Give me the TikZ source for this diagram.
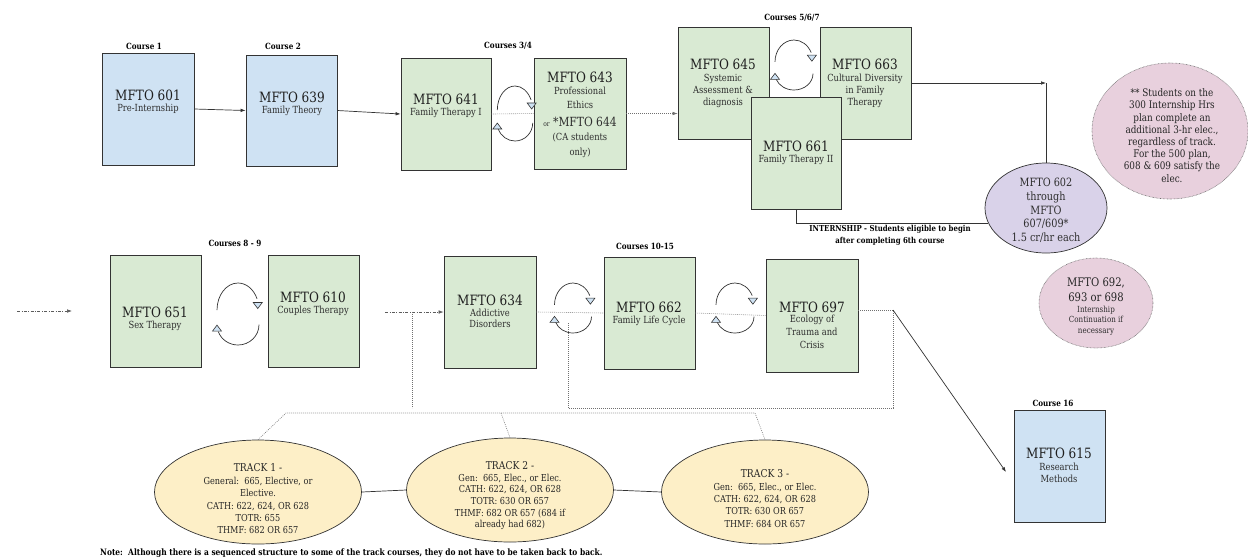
\documentclass[tikz,border=0pt]{standalone}
\usepackage{fontspec}
\setmainfont{DejaVu Serif}[FakeStretch=0.85]
\usetikzlibrary{arrows.meta,shapes.geometric,calc}
\definecolor{cblue}{HTML}{CFE2F3}
\definecolor{cgreen}{HTML}{D9EAD3}
\definecolor{clav}{HTML}{D9D2E9}
\definecolor{cpink}{HTML}{E8D0DD}
\definecolor{cyel}{HTML}{FDEFC7}
\definecolor{cline}{HTML}{333333}
\definecolor{cdot}{HTML}{707070}
\tikzset{
  box/.style={draw=cline, line width=0.8pt, minimum width=91pt, minimum height=112pt, inner sep=0pt},
  bbox/.style={box, fill=cblue},
  gbox/.style={box, fill=cgreen},
  ttl/.style={font=\fontsize{14.2}{16}\selectfont, inner sep=0pt, text=black!88},
  sub/.style={font=\fontsize{9.8}{12.5}\selectfont, align=center, inner sep=0pt, text=black!82},
  lab/.style={font=\bfseries\fontsize{8.5}{11.5}\selectfont, inner sep=0pt, align=center},
  ln/.style={draw=cline, line width=0.7pt},
  arr/.style={ln, -{Latex[length=5pt,width=3.6pt]}},
  dotl/.style={draw=cdot, line width=0.6pt, dash pattern=on 0.8pt off 1.2pt},
  dotarr/.style={dotl, -{Latex[length=5pt,width=3.6pt]}},
  ddarr/.style={draw=cline!80, line width=0.6pt, dash pattern=on 3pt off 1.5pt on 0.8pt off 1.5pt, -{Latex[length=5pt,width=3.6pt]}},
  cycl/.style={draw=cline, line width=0.7pt},
  tri/.style={draw=cline, line width=0.6pt, fill=cblue},
  ell/.style={ellipse, inner sep=0pt},
  tracke/.style={ell, draw=cline, line width=0.7pt, fill=cyel, minimum width=207pt, minimum height=104pt},
  pinke/.style={ell, fill=cpink, draw=cdot, line width=0.6pt, dash pattern=on 0.6pt off 0.8pt},
  trt/.style={font=\fontsize{10.8}{12}\selectfont, inner sep=0pt, text=black!85},
  trs/.style={font=\fontsize{9.6}{12.3}\selectfont, align=center, inner sep=0pt, text=black!85},
}
\newcommand{\cycarr}[4]{%
  \draw[cycl] ({#1-#3},{#2-0.127*#4}) arc[start angle=180, end angle=335, x radius=#3, y radius={0.873*#4}];
  \filldraw[tri] ({#1+0.94*#3},{#2-0.273*#4}) ++(-4.5,-3) -- ++(9,0) -- ++(-4.5,6) -- cycle;
  \draw[cycl] ({#1+#3},{#2+0.345*#4}) arc[start angle=0, end angle=160, x radius=#3, y radius={0.655*#4}];
  \filldraw[tri] ({#1-#3},{#2+0.455*#4}) ++(-4.5,3) -- ++(9,0) -- ++(-4.5,-6) -- cycle;
}
\begin{document}
\begin{tikzpicture}[x=1pt,y=-1pt]
\useasboundingbox[fill=white] (0,0) rectangle (1248,558);

% ---------- Row 1 boxes ----------
\node[bbox, minimum width=92pt] (b601) at (148,109) {};
\node[bbox, minimum height=111pt] (b639) at (291.5,110.5) {};
\node[gbox, minimum width=90pt] (b641) at (446,114) {};
\node[gbox, minimum width=92pt, minimum height=111pt] (b643) at (580,113.5) {};
\node[gbox] (b645) at (723.5,83) {};
\node[gbox] (b663) at (865.5,83) {};
\node[gbox, minimum width=90pt] (b661) at (796,153) {};

% labels
\node[lab] (l1) at (144,46) {Course 1};
\node[lab] (l2) at (283,46) {Course 2};
\node[lab] (l34) at (508,46) {Courses 3/4};
\node[lab] (l567) at (792,18) {Courses 5/6/7};

% texts row 1
\node[ttl] (t601) at (148,95) {MFTO 601};
\node[sub] (s601) at (148,109) {Pre-Internship};
\node[ttl] (t639) at (292,97) {MFTO 639};
\node[sub] (s639) at (292,111) {Family Theory};
\node[ttl] (t641) at (446,99) {MFTO 641};
\node[sub] (s641) at (446,113) {Family Therapy I};
\node[ttl] (t643) at (580,77) {MFTO 643};
\node[sub, font=\fontsize{9.8}{14}\selectfont] (s643a) at (580,98) {Professional\\Ethics};
\node[sub, font=\fontsize{12.6}{14}\selectfont] (s643b) at (580,122) {{\fontsize{7}{8}\selectfont or} *MFTO 644};
\node[sub, font=\fontsize{9.8}{15}\selectfont] (s643c) at (580,145.5) {(CA students\\only)};
\node[ttl] (t645) at (723,64) {MFTO 645};
\node[sub, font=\fontsize{9.8}{12}\selectfont] (s645) at (723,91) {Systemic\\Assessment \&\\diagnosis};
\node[ttl] (t663) at (865,64) {MFTO 663};
\node[sub, font=\fontsize{9.8}{12}\selectfont] (s663) at (865,91) {Cultural Diversity\\in Family\\Therapy};
\node[ttl] (t661) at (796,146) {MFTO 661};
\node[sub] (s661) at (796,160) {Family Therapy II};

% cycles row 1
\cycarr{515}{113.5}{17.7}{27.5}
\cycarr{794}{65}{19}{25}

% connectors row 1
\draw[arr] (b601.east) -- (b639.west);
\draw[arr] (b639.east) -- (b641.west);
\draw[dotl] (b641.east) -- (b643.west);
\draw[dotarr] (b643.east) -- (b643.east -| b645.west);
\coordinate (k663) at (1046,83);
\draw[arr] (b663.east) -- (k663);

% ellipse 602
\node[ell, draw=cline, line width=0.7pt, fill=clav, minimum width=122pt, minimum height=90pt] (e602) at (1046,208) {};
\node[sub, font=\fontsize{11.4}{13.75}\selectfont] (te602) at (1046,210.5) {MFTO 602\\through\\MFTO\\607/609*\\1.5 cr/hr each};
\draw[ln] (k663) -- (e602.north);
\draw[ln] (b661.south) |- (e602.195);
\node[lab, font=\bfseries\fontsize{8.2}{11.5}\selectfont] (lint) at (890,235.5) {INTERNSHIP - Students eligible to begin\\after completing 6th course};

% pink note
\node[pinke, minimum width=156pt, minimum height=136pt] (enote) at (1170,131) {};
\node[sub, font=\fontsize{10.4}{12.2}\selectfont, text=black!85] (tnote) at (1172,135.5) {** Students on the\\300 Internship Hrs\\plan complete an\\additional 3-hr elec.,\\regardless of track.\\For the 500 plan,\\608 \& 609 satisfy the\\elec.};

% pink 692
\node[pinke, minimum width=114pt, minimum height=90pt] (e692) at (1096,303) {};
\node[sub, font=\fontsize{11.8}{14.5}\selectfont, text=black!85] (t692) at (1096,289.5) {MFTO 692,\\693 or 698};
\node[sub, font=\fontsize{8.4}{10.5}\selectfont] (s692) at (1096,320.5) {Internship\\Continuation if\\necessary};

% ---------- Row 2 ----------
\node[gbox] (b651) at (155.5,311) {};
\node[gbox] (b610) at (313.5,311) {};
\node[gbox, minimum width=92pt] (b634) at (490,312) {};
\node[gbox] (b662) at (649.5,313) {};
\node[gbox, minimum width=92pt, minimum height=113pt] (b697) at (812,315.5) {};
\node[bbox] (b615) at (1059.5,466) {};

\node[lab] (l89) at (235,243) {Courses 8 - 9};
\node[lab] (l1015) at (645,246) {Courses 10-15};
\node[lab] (l16) at (1053,403) {Course 16};

\node[ttl] (t651) at (155,312) {MFTO 651};
\node[sub] (s651) at (155,326) {Sex Therapy};
\node[ttl] (t610) at (313,297) {MFTO 610};
\node[sub] (s610) at (313,311) {Couples Therapy};
\node[ttl] (t634) at (490,300) {MFTO 634};
\node[sub, font=\fontsize{9.8}{11.5}\selectfont] (s634) at (490,318.5) {Addictive\\Disorders};
\node[ttl] (t662) at (649,307) {MFTO 662};
\node[sub] (s662) at (649,321) {Family Life Cycle};
\node[ttl] (t697) at (812,307) {MFTO 697};
\node[sub, font=\fontsize{9.8}{13}\selectfont] (s697) at (812,332) {Ecology of\\Trauma and\\Crisis};
\node[ttl] (t615) at (1059,453) {MFTO 615};
\node[sub, font=\fontsize{9.8}{12}\selectfont] (s615) at (1059,473) {Research\\Methods};

% cycles row 2
\cycarr{238}{314}{21}{31}
\cycarr{573}{308}{18.5}{25}
\cycarr{735}{308}{19}{25}

% connectors row 2
\coordinate (s0) at (17,311);
\coordinate (s1) at (72,311);
\draw[ddarr] (s0) -- (s1);
\coordinate (s2) at (385,312);
\draw[ddarr] (s2) -- (b634.west);
\coordinate (v1) at (412,312);
\coordinate (v1b) at (412,408);
\draw[dotl] (v1) -- (v1b);
\draw[dotl] (b634.east) -- (b662.west);
\draw[dotl] (b662.east) -- (b697.west);
\coordinate (r697) at (893,310);
\coordinate (r697b) at (893,408);
\coordinate (v2b) at (568,408);
\coordinate (v2) at (568,322);
\draw[dotl] (b697.east |- r697) -- (r697) -- (r697b) -- (v2b) -- (v2);
\coordinate (a615) at (1006,472);
\draw[arr] (r697) -- (a615);

% tracks
\node[tracke] (tk1) at (258,492) {};
\node[tracke] (tk2) at (510,490) {};
\node[tracke] (tk3) at (765,492) {};
\node[trt] (tt1) at (258,468) {TRACK 1 -};
\node[trs] (ts1) at (258,505.5) {General:\ \ 665, Elective, or\\Elective.\\CATH: 622, 624, OR 628\\TOTR: 655\\THMF: 682 OR 657};
\node[trt] (tt2) at (510,466) {TRACK 2 -};
\node[trs, font=\fontsize{9.6}{11.6}\selectfont] (ts2) at (510,502) {Gen:\ \ 665, Elec., or Elec.\\CATH: 622, 624, OR 628\\TOTR: 630 OR 657\\THMF: 682 OR 657 (684 if\\already had 682)};
\node[trt] (tt3) at (765,474) {TRACK 3 -};
\node[trs] (ts3) at (765,505) {Gen:\ \ 665, Elec., or Elec.\\CATH: 622, 624, OR 628\\TOTR: 630 OR 657\\THMF: 684 OR 657};

\coordinate (h1) at (286,413);
\coordinate (h2) at (501,413);
\coordinate (h3) at (755,413);
\draw[dotl] (tk1.north) -- (h1) -- (h3) -- (tk3.north);
\draw[dotl] (h2) -- (tk2.north);
\draw[ln] (tk1.east) -- (tk2.west);
\draw[ln] (tk2.east) -- (tk3.west);

% note
\node[lab, anchor=west, font=\bfseries\fontsize{8.8}{11.5}\selectfont] (note) at (100,553) {Note:\ \ Although there is a sequenced structure to some of the track courses, they do not have to be taken back to back.};
\end{tikzpicture}
\end{document}
